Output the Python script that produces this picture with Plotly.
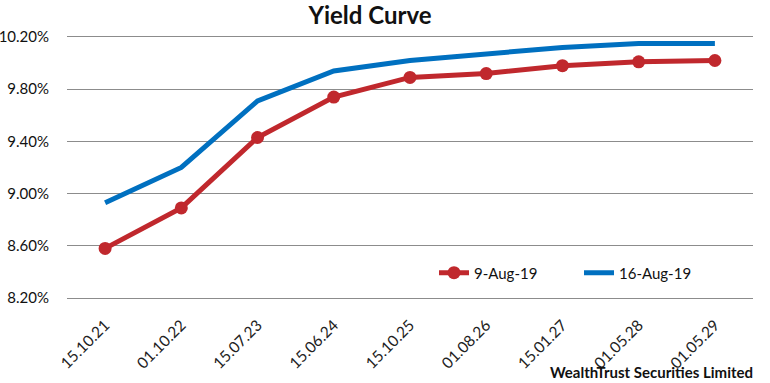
import plotly.graph_objects as go

categories = ["15.10.21", "01.10.22", "15.07.23", "15.06.24", "15.10.25",
              "01.08.26", "15.01.27", "01.05.28", "01.05.29"]
yield_9aug = [8.58, 8.89, 9.43, 9.74, 9.89, 9.92, 9.98, 10.01, 10.02]
yield_16aug = [8.93, 9.20, 9.71, 9.94, 10.02, 10.07, 10.12, 10.15, 10.15]
y_ticks = [8.20, 8.60, 9.00, 9.40, 9.80, 10.20]

RED = "#C0282D"
BLUE = "#0070C0"
FONT = "Lato"

fig = go.Figure()
fig.add_trace(go.Scatter(
    x=categories, y=yield_9aug, name="9-Aug-19", mode="lines+markers",
    line=dict(color=RED, width=5), marker=dict(color=RED, size=13)))
fig.add_trace(go.Scatter(
    x=categories, y=yield_16aug, name="16-Aug-19", mode="lines",
    line=dict(color=BLUE, width=5)))

fig.update_layout(
    width=770, height=383,
    margin=dict(l=67, r=17, t=37, b=85, autoexpand=False),
    paper_bgcolor="white", plot_bgcolor="white",
    font=dict(family=FONT, size=13, color="#111"),
    title=dict(text="<b>Yield Curve</b>", x=0.4805, xanchor="center",
               xref="container", y=0.958, yanchor="middle",
               font=dict(family=FONT, size=24, color="#111")),
    showlegend=True,
    legend=dict(orientation="h", x=0.535, y=0.096, xanchor="left", yanchor="middle",
                bgcolor="rgba(0,0,0,0)", font=dict(family=FONT, size=15, color="#111"),
                itemwidth=30, tracegroupgap=0, entrywidth=100),
)
fig.update_xaxes(type="category", range=[-0.5, 8.5], tickangle=-45,
                 showgrid=False, showline=True, mirror=True, linecolor="#8c8c8c",
                 linewidth=1, ticks="outside", ticklen=11, tickcolor="rgba(0,0,0,0)",
                 tickfont=dict(family=FONT, size=15.5, color="#222"))
fig.update_yaxes(range=[8.2, 10.2], tickvals=y_ticks,
                 ticktext=[f"{v:.2f}%" for v in y_ticks],
                 showgrid=True, gridcolor="#8c8c8c", gridwidth=1,
                 zeroline=False, showline=False, ticks="outside", ticklen=14,
                 tickcolor="rgba(0,0,0,0)",
                 tickfont=dict(family=FONT, size=15, color="#111"))

fig.add_annotation(text="<b>WealthTrust Securities Limited</b>", xref="paper", yref="paper",
                   x=1.003, y=-0.284, xanchor="right", yanchor="middle", showarrow=False,
                   font=dict(family=FONT, size=15, color="#111"))

fig.write_html("out.html", config={"displayModeBar": False},
               post_script="document.body.style.margin='0';")
